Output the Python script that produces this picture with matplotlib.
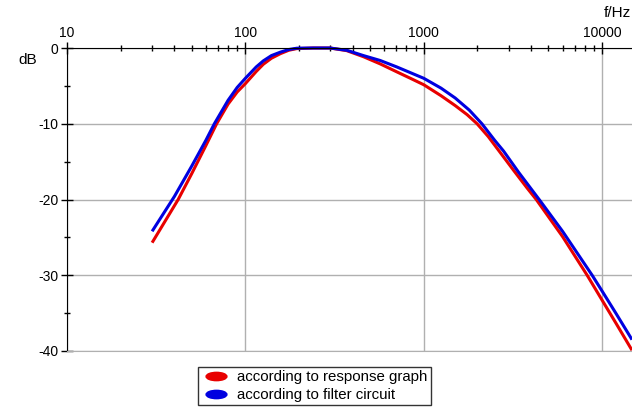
import matplotlib
matplotlib.use("Agg")
import matplotlib.pyplot as plt
from matplotlib.lines import Line2D
from matplotlib.path import Path
from matplotlib.transforms import Affine2D
from matplotlib.ticker import LogLocator, FixedLocator, NullFormatter

plt.rcParams["font.family"] = ["Liberation Sans", "DejaVu Sans"]
plt.rcParams["axes.unicode_minus"] = False

# values
freq_graph = [30, 42, 50, 60, 69, 80, 90, 100, 115, 126, 140, 157, 175, 194,
              240, 298, 370, 459, 570, 706, 850, 1000, 1250, 1500, 1750, 1990,
              2300, 2625, 3200, 3800, 4270, 6000, 8240, 10000, 12000, 14700]
db_graph = [-25.7, -20.0, -16.6, -12.9, -10.0, -7.4, -5.8, -4.7, -3.1, -2.15,
            -1.35, -0.75, -0.3, -0.08, 0.0, 0.0, -0.35, -1.15, -2.1, -3.15, -4.05,
            -4.85, -6.3, -7.6, -8.8, -10.0, -11.7, -13.5, -16.2, -18.5, -20.0,
            -24.9, -30.0, -33.3, -36.4, -39.9]

freq_circuit = [30, 40, 50, 60, 67, 80, 90, 100, 115, 126, 140, 157, 175, 194,
                240, 298, 370, 459, 570, 706, 850, 1000, 1250, 1500, 1800, 2118,
                2500, 2800, 3400, 4500, 6000, 8790, 10000, 12000, 14700]
db_circuit = [-24.2, -19.6, -15.6, -12.2, -10.0, -6.9, -5.2, -4.0, -2.5, -1.7,
              -1.0, -0.55, -0.2, -0.03, 0.0, 0.0, -0.3, -1.0, -1.65, -2.5, -3.3,
              -4.0, -5.3, -6.6, -8.2, -10.0, -12.2, -13.6, -16.4, -20.2, -24.2,
              -30.0, -32.1, -35.1, -38.5]

labels = ["according to response graph", "according to filter circuit"]
x_major = [10, 100, 1000, 10000]
y_major = [0, -10, -20, -30, -40]
y_minor = [-5, -15, -25, -35]

W, H = 632, 408
fig = plt.figure(figsize=(W / 100, H / 100), dpi=100)
ax = fig.add_axes([67 / W, (H - 351) / H, (W - 67) / W, (351 - 48) / H])

red = "#e80000"
blue = "#0000e0"
ax.plot(freq_graph, db_graph, color=red, lw=2.2, solid_capstyle="butt",
        solid_joinstyle="round", clip_on=False)
ax.plot(freq_circuit, db_circuit, color=blue, lw=2.2, solid_capstyle="butt",
        solid_joinstyle="round", clip_on=False)

ax.set_xscale("log")
ax.set_xlim(10, 14700)
ax.set_ylim(-40, 0)

ax.xaxis.set_major_locator(FixedLocator(x_major))
ax.xaxis.set_major_formatter(plt.FixedFormatter([str(v) for v in x_major]))
ax.xaxis.set_minor_locator(LogLocator(base=10, subs=range(2, 10)))
ax.xaxis.set_minor_formatter(NullFormatter())
ax.xaxis.tick_top()
ax.tick_params(axis="x", which="major", direction="inout", length=8, width=1,
               labelsize=10, pad=2, color="black")
ax.tick_params(axis="x", which="minor", direction="inout", length=5, width=1,
               color="black")

ax.yaxis.set_major_locator(FixedLocator(y_major))
ax.yaxis.set_minor_locator(FixedLocator(y_minor))
ax.tick_params(axis="y", which="major", direction="inout", length=8, width=1,
               labelsize=10, pad=2, color="black")
ax.tick_params(axis="y", which="minor", direction="inout", length=5, width=1,
               color="black")

ax.grid(True, which="major", color="#b0b0b0", lw=1)
ax.set_axisbelow(True)

ax.spines["right"].set_visible(False)
ax.spines["bottom"].set_color("#b0b0b0")
ax.spines["top"].set_color("black")
ax.spines["left"].set_color("black")

fig.text(18 / W, 1 - 60 / H, "dB", fontsize=11, ha="left", va="center")
fig.text(631 / W, 1 - 13 / H, "f/Hz", fontsize=11, ha="right", va="center")

# flat ellipse marker for the legend keys
blob = Affine2D().scale(1.0, 0.4).transform_path(Path.unit_circle())
handles = [Line2D([], [], ls="none", marker=blob, markersize=15, color=red),
           Line2D([], [], ls="none", marker=blob, markersize=15, color=blue)]
leg = fig.legend(handles, labels, loc="upper left",
                 bbox_to_anchor=(198 / W, 1 - 367 / H),
                 fontsize=10.8, handlelength=2.0, handletextpad=0.4, numpoints=1,
                 borderpad=0.22, labelspacing=0.25, fancybox=False, framealpha=1,
                 edgecolor="#333333", borderaxespad=0)
leg.get_frame().set_linewidth(1)

fig.savefig("out.png", dpi=100)
